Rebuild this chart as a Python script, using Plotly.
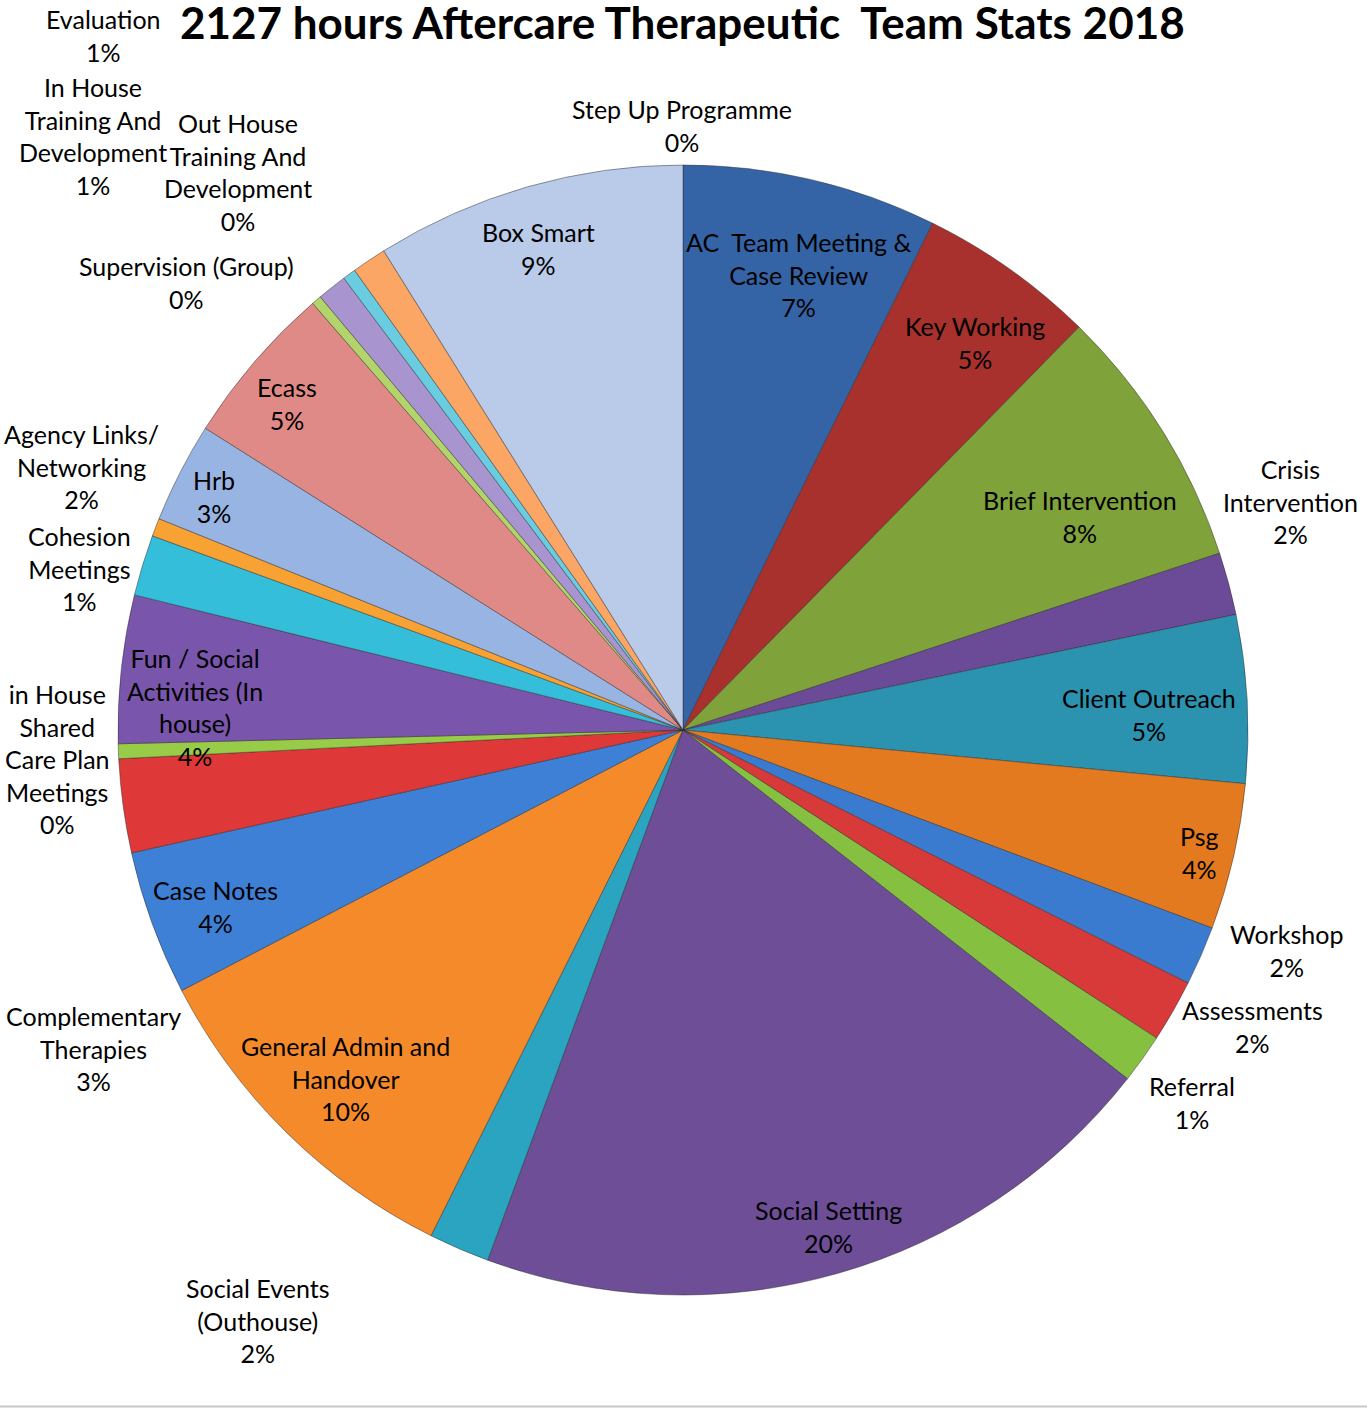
import plotly.graph_objects as go

# ---------------- data ----------------
title_text = "2127 hours Aftercare Therapeutic  Team Stats 2018"

categories = [
    "Step Up Programme",
    "AC  Team Meeting & Case Review",
    "Key Working",
    "Brief Intervention",
    "Crisis Intervention",
    "Client Outreach",
    "Psg",
    "Workshop",
    "Assessments",
    "Referral",
    "Social Setting",
    "Social Events (Outhouse)",
    "General Admin and Handover",
    "Case Notes",
    "Complementary Therapies",
    "in House Shared Care Plan Meetings",
    "Fun / Social Activities (In house)",
    "Agency Links/ Networking",
    "Cohesion Meetings",
    "Hrb",
    "Ecass",
    "Supervision (Group)",
    "In House Training And Development",
    "Out House Training And Development",
    "Evaluation",
    "Box Smart",
]

hours = [0, 155, 108, 161, 38, 102, 89, 36, 38, 30, 426, 37, 213, 88, 57,
         9, 90, 37, 11, 61, 99, 6, 18, 8, 21, 189]

# how each label is wrapped in the chart
label_lines = [
    ["Step Up Programme"],
    ["AC  Team Meeting &", "Case Review"],
    ["Key Working"],
    ["Brief Intervention"],
    ["Crisis", "Intervention"],
    ["Client Outreach"],
    ["Psg"],
    ["Workshop"],
    ["Assessments"],
    ["Referral"],
    ["Social Setting"],
    ["Social Events", "(Outhouse)"],
    ["General Admin and", "Handover"],
    ["Case Notes"],
    ["Complementary", "Therapies"],
    ["in House", "Shared", "Care Plan", "Meetings"],
    ["Fun / Social", "Activities (In", "house)"],
    ["Agency Links/", "Networking"],
    ["Cohesion", "Meetings"],
    ["Hrb"],
    ["Ecass"],
    ["Supervision (Group)"],
    ["In House", "Training And", "Development"],
    ["Out House", "Training And", "Development"],
    ["Evaluation"],
    ["Box Smart"],
]

# ---------------- style / layout ----------------
W, H = 1367, 1408
CX, CY, R = 683, 730, 565

colors = [
    "#E6B9B8", "#3464A6", "#A8312E", "#7FA23B", "#6B4A98", "#2B93AF",
    "#E47A1F", "#3A7BD0", "#D83A3A", "#86C040", "#6E4E97", "#2AA4C0",
    "#F58A2A", "#3D80D6", "#DF3838", "#98CC48", "#7A55AC", "#35BEDA",
    "#F7A232", "#98B4E2", "#E08A88", "#B2D46A", "#A895D0", "#6ACCE0",
    "#FCA666", "#BACBE9",
]

# label block centres in pixels (x, y from top)
label_pos = [
    (682, 125.5), (798, 274), (975, 342), (1080, 516), (1290, 502),
    (1149, 714), (1199, 852), (1286, 950), (1252, 1026.5), (1192, 1102),
    (828, 1226.5), (258, 1320), (345, 1078.5), (215, 906), (93, 1048.5),
    (57, 759), (195, 706.5), (81, 466.5), (79, 568.5), (214, 496),
    (287, 404), (186, 282), (93, 136), (238, 172), (103, 35.5), (538, 248),
]

FONT = "Lato, 'Open Sans', sans-serif"

fig = go.Figure()
fig.add_trace(go.Pie(
    labels=categories,
    values=hours,
    sort=False,
    direction="clockwise",
    rotation=0,
    textinfo="none",
    hoverinfo="label+value+percent",
    marker=dict(colors=colors, line=dict(color="rgba(40,40,40,0.45)", width=1)),
    domain=dict(x=[(CX - R) / W, (CX + R) / W],
                y=[1 - (CY + R) / H, 1 - (CY - R) / H]),
    showlegend=False,
))

total = sum(hours)
annotations = []
for lines, v, (px, py) in zip(label_lines, hours, label_pos):
    pct = round(v / total * 100)
    text = "<br>".join(lines + [f"{pct}%"])
    annotations.append(dict(
        x=px / W, y=1 - py / H, xref="paper", yref="paper",
        text=text, showarrow=False, xanchor="center", yanchor="middle",
        align="center", font=dict(family=FONT, size=25, color="#000000"),
    ))

annotations.append(dict(
    x=682 / W, y=1 - 22 / H, xref="paper", yref="paper",
    text=f"<b>{title_text}</b>", showarrow=False, xanchor="center", yanchor="middle",
    font=dict(family=FONT, size=44, color="#000000"),
))

fig.update_layout(
    width=W, height=H,
    margin=dict(l=0, r=0, t=0, b=0),
    paper_bgcolor="white",
    plot_bgcolor="white",
    annotations=annotations,
    shapes=[dict(type="line", xref="paper", yref="paper",
                 x0=0, x1=1, y0=1 - 1406.5 / H, y1=1 - 1406.5 / H,
                 line=dict(color="#C8C8C8", width=2))],
)

fig.write_html("out.html",
               config={"displayModeBar": False},
               post_script="document.body.style.margin='0';document.body.style.overflow='hidden';")
